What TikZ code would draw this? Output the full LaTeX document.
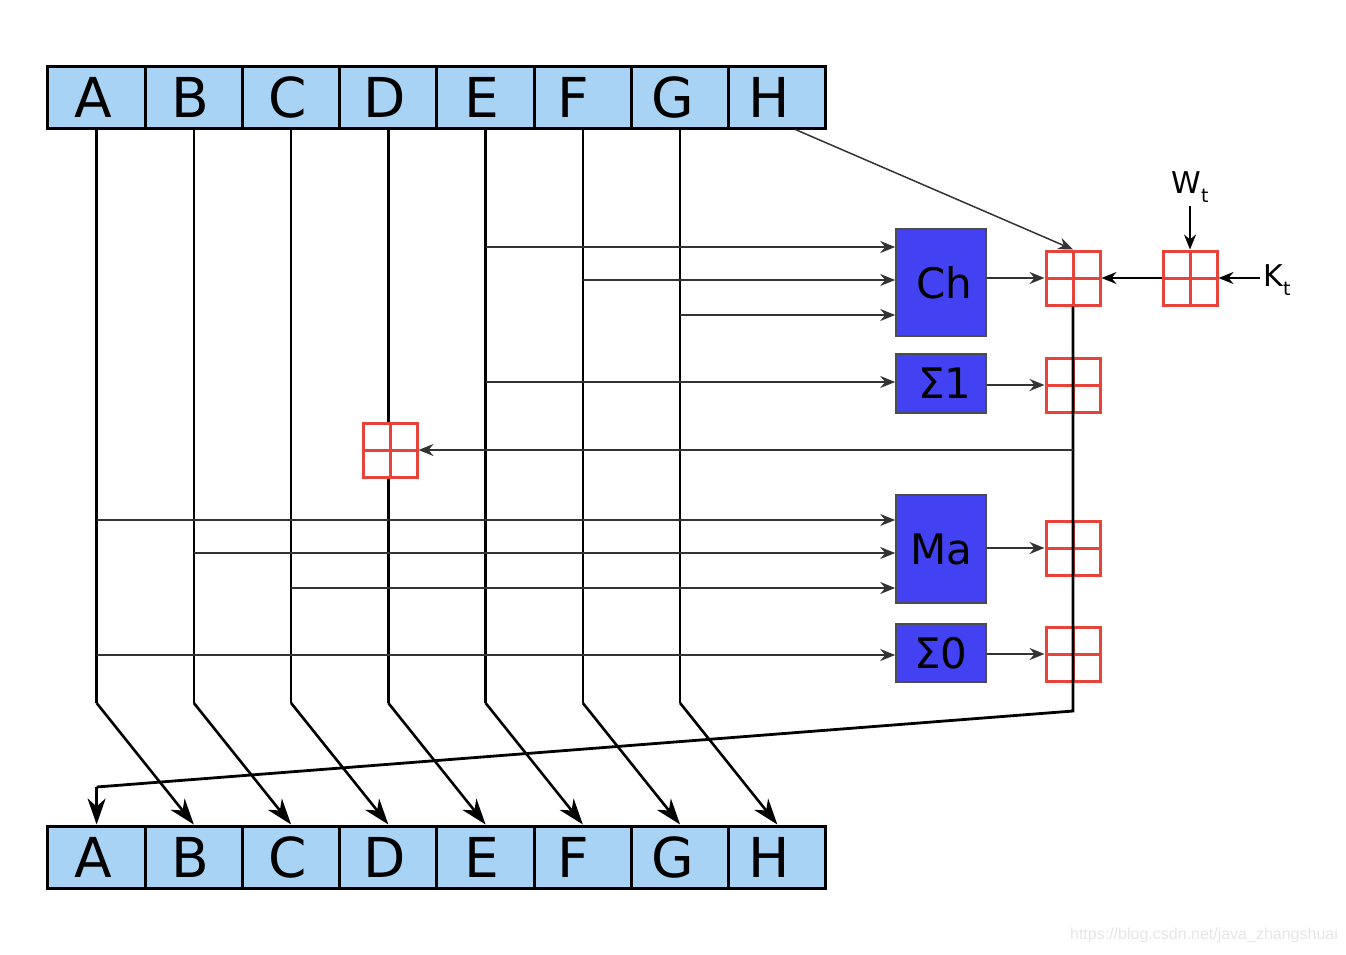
\documentclass[tikz,border=0pt]{standalone}
\usepackage{fontspec}
\setmainfont{DejaVu Sans}
\newfontfamily\wmfont{Liberation Sans}
\usetikzlibrary{arrows.meta}
\definecolor{regblue}{HTML}{A9D3F5}
\definecolor{fblue}{HTML}{4242F2}
\definecolor{addred}{HTML}{E8433B}
\definecolor{lgray}{HTML}{333333}
\tikzset{
  reg/.style={draw=black, line width=3pt, fill=regblue, minimum width=97.25pt, minimum height=62pt, inner sep=0pt, font=\fontsize{55}{55}\selectfont},
  fbox/.style={draw=black!70, line width=1.6pt, fill=fblue, minimum width=90pt, inner sep=0pt, font=\fontsize{42}{42}\selectfont},
  adder/.style={draw=addred, line width=3pt, fill=white, minimum width=54pt, minimum height=54pt, inner sep=0pt},
  cross/.style={draw=addred, line width=3pt},
  vline/.style={draw=black, line width=2.6pt},
  harrow/.style={draw=lgray, line width=2pt, -{Stealth[length=15pt,width=12pt,inset=5pt]}},
  darrow/.style={draw=black, line width=2.6pt, -{Stealth[length=26pt,width=18pt,inset=8pt]}},
  sumline/.style={draw=black, line width=2.8pt},
}
\begin{document}
\begin{tikzpicture}[x=1pt,y=-1pt]
\useasboundingbox (0,0) rectangle (1346,954);
% registers
\foreach \n/\s [count=\i from 0] in {A/7,B/7,C/7,D/7,E/7,F/19,G/15,H/17}{
  \node[reg] (t\n) at ({96.6+97.25*\i},97) {\hspace*{-\s pt}\n};
  \node[reg] (b\n) at ({96.6+97.25*\i},857) {\hspace*{-\s pt}\n};
}
% function boxes
\node[fbox, minimum height=107pt] (ch) at (941,282.5) {\hspace*{6pt}Ch};
\node[fbox, minimum height=59pt] (s1) at (941,383.5) {\hspace*{8pt}Σ1};
\node[fbox, minimum height=108pt] (ma) at (941,549) {Ma};
\node[fbox, minimum height=58pt] (s0) at (941,653) {Σ0};
% vertical lines with diagonal arrows
\draw[vline] (tA.south) -- (tA.south |- 0,703) coordinate (dA);
\draw[darrow] (dA) -- (bB.north);
\draw[vline] (tB.south) -- (tB.south |- 0,703) coordinate (dB);
\draw[darrow] (dB) -- (bC.north);
\draw[vline] (tC.south) -- (tC.south |- 0,703) coordinate (dC);
\draw[darrow] (dC) -- (bD.north);
\draw[vline] (tD.south) -- (tD.south |- 0,703) coordinate (dD);
\draw[darrow] (dD) -- (bE.north);
\draw[vline] (tE.south) -- (tE.south |- 0,703) coordinate (dE);
\draw[darrow] (dE) -- (bF.north);
\draw[vline] (tF.south) -- (tF.south |- 0,703) coordinate (dF);
\draw[darrow] (dF) -- (bG.north);
\draw[vline] (tG.south) -- (tG.south |- 0,703) coordinate (dG);
\draw[darrow] (dG) -- (bH.north);
% inputs to function boxes
\draw[harrow] (tE.south |- 0,247) -- (ch.west |- 0,247);
\draw[harrow] (tF.south |- 0,280) -- (ch.west |- 0,280);
\draw[harrow] (tG.south |- 0,315) -- (ch.west |- 0,315);
\draw[harrow] (tE.south |- 0,382) -- (s1.west |- 0,382);
\draw[harrow] (tA.south |- 0,520) -- (ma.west |- 0,520);
\draw[harrow] (tB.south |- 0,553) -- (ma.west |- 0,553);
\draw[harrow] (tC.south |- 0,588) -- (ma.west |- 0,588);
\draw[harrow] (tA.south |- 0,655) -- (s0.west |- 0,655);
% adders
\node[adder] (a1) at (1073,278) {};
\node[adder] (a2) at (1073,385) {};
\node[adder] (a3) at (1073,548) {};
\node[adder] (a4) at (1073,654) {};
\node[adder] (aw) at (1190,278) {};
\node[adder] (ad) at (390,450) {};
\foreach \a in {a1,a2,a3,a4,aw,ad}{
  \draw[cross] (\a.north) -- (\a.south);
  \draw[cross] (\a.west) -- (\a.east);
}
% sum line
\coordinate (c1) at (a1.south |- 0,711);
\coordinate (c2) at (tA.south |- 0,787);
\draw[sumline] (a1.south) -- (c1) -- (c2);
\draw[darrow] (c2) -- (bA.north);
% outputs of function boxes into adders
\draw[harrow] (ch.east |- a1) -- (a1.west);
\draw[harrow] (s1.east |- a2) -- (a2.west);
\draw[harrow] (ma.east |- a3) -- (a3.west);
\draw[harrow] (s0.east |- a4) -- (a4.west);
% arrow to D adder
\draw[harrow] (a1.south |- ad) -- (ad.east);
% H into first adder
\draw[draw=lgray, line width=1.5pt, -{Stealth[length=15pt,width=12pt,inset=5pt]}] ([xshift=18pt]tH.south) -- (a1.north);
% W and K
\node (W) at (1190,187) {\fontsize{30}{30}\selectfont W\raisebox{-0.3em}{\fontsize{19}{19}\selectfont t}};
\node (K) at (1277,280) {\fontsize{30}{30}\selectfont K\raisebox{-0.3em}{\fontsize{19}{19}\selectfont t}};
\draw[harrow, draw=black] (W.south) -- (aw.north);
\draw[harrow, draw=black] (K.west |- aw) -- (aw.east);
\draw[harrow, draw=black] (aw.west) -- (a1.east);
% watermark
\node[text=black!10, font=\wmfont\fontsize{16}{16}\selectfont] (wm) at (1204,935) {https://blog.csdn.net/java\_zhangshuai};
\end{tikzpicture}
\end{document}
